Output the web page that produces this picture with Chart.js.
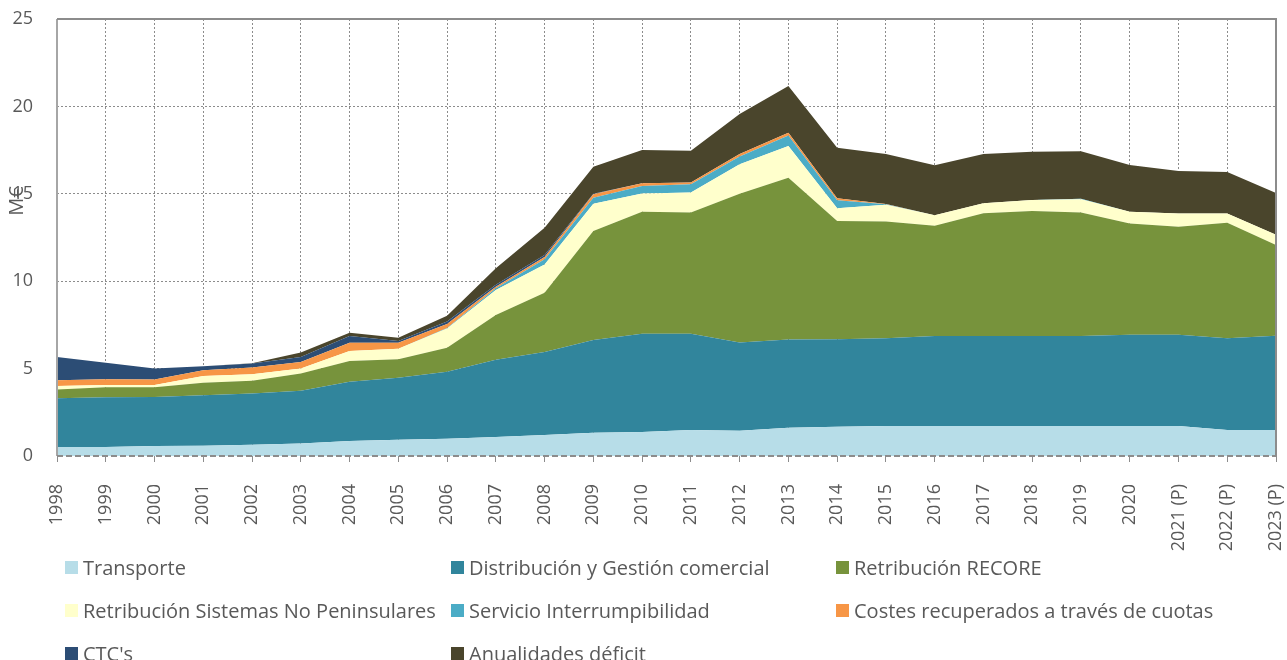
<!DOCTYPE html>
<html>
<head>
<meta charset="utf-8">
<title>Costes regulados</title>
<script src="https://cdn.jsdelivr.net/npm/chart.js@4.4.1/dist/chart.umd.min.js"></script>
<style>
  html, body { margin: 0; padding: 0; background: #fff; }
  #wrap { position: relative; width: 1287px; height: 660px; }
  #legend { position: absolute; left: 0; top: 0; width: 1287px; height: 660px; pointer-events: none;
            font-family: 'Open Sans', sans-serif; font-size: 20px; color: #595959; }
  .item { position: absolute; display: flex; align-items: center; white-space: nowrap; height: 26px; }
  .box { width: 13px; height: 13px; margin-right: 5px; flex: none; }
</style>
</head>
<body>
<div id="wrap">
  <canvas id="chart" width="1287" height="660"></canvas>
  <div id="legend"></div>
</div>
<script>
// categories
const years = ['1998', '1999', '2000', '2001', '2002', '2003', '2004', '2005', '2006', '2007',
  '2008', '2009', '2010', '2011', '2012', '2013', '2014', '2015', '2016', '2017',
  '2018', '2019', '2020', '2021 (P)', '2022 (P)', '2023 (P)'];

// series values (M€), stacked bottom to top
const transporte = [0.51, 0.51, 0.57, 0.59, 0.65, 0.71, 0.86, 0.93, 0.99, 1.09, 1.2, 1.33, 1.37,
  1.49, 1.45, 1.62, 1.68, 1.72, 1.72, 1.72, 1.72, 1.72, 1.72, 1.72, 1.49, 1.49];
const distribucion = [2.8, 2.85, 2.8, 2.88, 2.92, 3.02, 3.39, 3.55, 3.83, 4.41, 4.75, 5.3, 5.62,
  5.51, 5.04, 5.05, 5.0, 5.02, 5.15, 5.15, 5.15, 5.15, 5.21, 5.21, 5.25, 5.39];
const recore = [0.5, 0.57, 0.57, 0.72, 0.73, 0.99, 1.18, 1.05, 1.37, 2.57, 3.39, 6.24, 6.98,
  6.93, 8.52, 9.25, 6.77, 6.67, 6.3, 7.02, 7.15, 7.06, 6.37, 6.18, 6.61, 5.19];
const noPeninsulares = [0.2, 0.13, 0.12, 0.38, 0.38, 0.28, 0.57, 0.61, 1.11, 1.42, 1.62, 1.56, 1.05,
  1.14, 1.68, 1.81, 0.73, 0.96, 0.61, 0.57, 0.63, 0.76, 0.67, 0.76, 0.52, 0.59];
const interrumpibilidad = [0, 0, 0, 0, 0, 0, 0, 0, 0.02, 0.11, 0.29, 0.34, 0.42,
  0.48, 0.44, 0.61, 0.45, 0.03, 0, 0, 0, 0.02, 0, 0, 0, 0];
const cuotas = [0.33, 0.33, 0.32, 0.33, 0.38, 0.38, 0.48, 0.34, 0.23, 0.08, 0.13, 0.2, 0.16,
  0.09, 0.14, 0.15, 0.11, 0.02, 0, 0, 0, 0, 0, 0, 0, 0];
const ctcs = [1.33, 0.94, 0.63, 0.23, 0.23, 0.29, 0.38, 0.1, 0.15, 0.11, 0.12, 0.03, 0,
  0, 0, 0, 0, 0, 0, 0, 0, 0, 0, 0, 0, 0];
const anualidades = [0, 0, 0, 0, 0.02, 0.25, 0.19, 0.19, 0.33, 0.95, 1.56, 1.55, 1.9,
  1.82, 2.29, 2.67, 2.9, 2.85, 2.86, 2.81, 2.75, 2.73, 2.68, 2.44, 2.38, 2.39];

// y axis ticks
const yTicks = [0, 5, 10, 15, 20, 25];

const series = [
  { label: 'Transporte', data: transporte, color: '#b7dde8' },
  { label: 'Distribución y Gestión comercial', data: distribucion, color: '#31859c' },
  { label: 'Retribución RECORE', data: recore, color: '#77933c' },
  { label: 'Retribución Sistemas No Peninsulares', data: noPeninsulares, color: '#ffffcc' },
  { label: 'Servicio Interrumpibilidad', data: interrumpibilidad, color: '#4bacc6' },
  { label: 'Costes recuperados a través de cuotas', data: cuotas, color: '#f79646' },
  { label: "CTC's", data: ctcs, color: '#2c4d75' },
  { label: 'Anualidades déficit', data: anualidades, color: '#4a452c' }
];

const textColor = '#595959';
const gridColor = '#8c8c8c';
const tickFont = { family: "'Open Sans', sans-serif", size: 18 };

// plot frame: solid top/left/right, dashed bottom axis
const framePlugin = {
  id: 'frame',
  afterDatasetsDraw(chart) {
    const { ctx, chartArea: { left, right, top, bottom } } = chart;
    ctx.save();
    ctx.lineWidth = 2;
    ctx.strokeStyle = '#a6a6a6';
    ctx.beginPath();
    ctx.moveTo(left, bottom);
    ctx.lineTo(left, top);
    ctx.stroke();
    ctx.strokeStyle = gridColor;
    ctx.beginPath();
    ctx.moveTo(left, top);
    ctx.lineTo(right, top);
    ctx.lineTo(right, bottom);
    ctx.stroke();
    ctx.setLineDash([6, 3]);
    ctx.beginPath();
    ctx.moveTo(left, bottom);
    ctx.lineTo(right, bottom);
    ctx.stroke();
    ctx.restore();
  }
};

// y axis title, sits over the tick column
const yTitlePlugin = {
  id: 'yTitle',
  afterDraw(chart) {
    const { ctx, chartArea } = chart;
    ctx.save();
    ctx.translate(chartArea.left - 40, chartArea.top + 182);
    ctx.rotate(-Math.PI / 2);
    ctx.font = "20px 'Open Sans', sans-serif";
    ctx.fillStyle = textColor;
    ctx.textAlign = 'center';
    ctx.textBaseline = 'middle';
    ctx.fillText('M€', 0, 0);
    ctx.restore();
  }
};

const chart = new Chart(document.getElementById('chart'), {
  type: 'line',
  data: {
    labels: years,
    datasets: series.map((s, i) => ({
      label: s.label,
      data: s.data,
      backgroundColor: s.color,
      borderColor: s.color,
      borderWidth: 0,
      pointRadius: 0,
      tension: 0,
      fill: i === 0 ? 'origin' : '-1'
    }))
  },
  options: {
    responsive: false,
    animation: false,
    devicePixelRatio: 1,
    layout: { padding: { left: 0, right: 0, top: 19, bottom: 0 } },
    plugins: {
      legend: { display: false },
      tooltip: { enabled: false }
    },
    scales: {
      x: {
        offset: false,
        grid: {
          color: gridColor,
          lineWidth: 1,
          drawTicks: true,
          tickLength: 6,
          tickColor: gridColor,
          tickBorderDash: []
        },
        border: { display: false, dash: [2, 2] },
        ticks: {
          autoSkip: false,
          minRotation: 90,
          maxRotation: 90,
          padding: 22,
          color: textColor,
          font: tickFont
        },
        afterFit(scale) {
          scale.height = 204;
          scale.paddingLeft = 0;
          scale.paddingRight = 11;
        }
      },
      y: {
        stacked: true,
        min: yTicks[0],
        max: yTicks[yTicks.length - 1],
        afterBuildTicks(scale) { scale.ticks = yTicks.map(v => ({ value: v })); },
        grid: {
          drawTicks: false,
          color: ctx => (ctx.tick && (ctx.tick.value === 0 || ctx.tick.value === 25)) ? 'rgba(0,0,0,0)' : gridColor,
          lineWidth: 1
        },
        border: { display: false, dash: [2, 2] },
        ticks: { padding: 24, color: textColor, font: tickFont },
        afterFit(scale) {
          scale.width = 57;
          scale.paddingTop = 0;
          scale.paddingBottom = 0;
        }
      }
    }
  },
  plugins: [framePlugin, yTitlePlugin]
});

// legend in three columns under the axis labels
const legendEl = document.getElementById('legend');
const colX = [65, 451, 836];
const rowY = [567, 610, 653];
chart.data.datasets.forEach((ds, i) => {
  const item = document.createElement('div');
  item.className = 'item';
  item.style.left = colX[i % 3] + 'px';
  item.style.top = (rowY[Math.floor(i / 3)] - 13) + 'px';
  const box = document.createElement('span');
  box.className = 'box';
  box.style.background = ds.backgroundColor;
  const txt = document.createElement('span');
  txt.textContent = ds.label;
  item.appendChild(box);
  item.appendChild(txt);
  legendEl.appendChild(item);
});
</script>
</body>
</html>
